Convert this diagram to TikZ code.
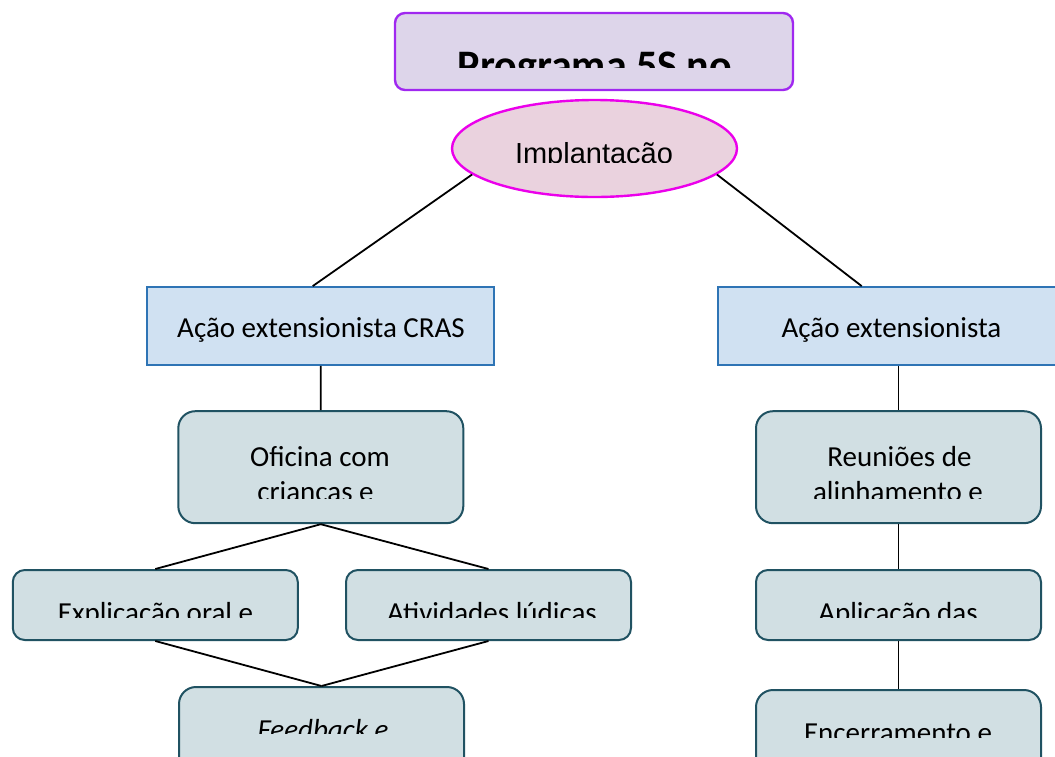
\documentclass[tikz,border=0pt]{standalone}
\usepackage{fontspec}
\setmainfont{Carlito}
\newfontfamily\arialfont{Liberation Sans}
\usetikzlibrary{shapes.geometric}
\definecolor{titlefill}{RGB}{221,213,234}
\definecolor{titledraw}{RGB}{160,40,240}
\definecolor{ellfill}{RGB}{234,210,222}
\definecolor{elldraw}{RGB}{235,0,235}
\definecolor{bluefill}{RGB}{208,225,242}
\definecolor{bluedraw}{RGB}{46,116,181}
\definecolor{tealfill}{RGB}{209,223,227}
\definecolor{tealdraw}{RGB}{32,82,98}
\tikzset{
  titlebox/.style={draw=titledraw,fill=titlefill,line width=2.4pt,rounded corners=10pt,inner sep=0pt},
  ellbox/.style={ellipse,draw=elldraw,fill=ellfill,line width=2.4pt,inner sep=0pt,minimum width=285pt,minimum height=97pt},
  bluebox/.style={rectangle,draw=bluedraw,fill=bluefill,line width=1.8pt,inner sep=0pt,minimum width=347pt,minimum height=78pt},
  tealbig/.style={rectangle,draw=tealdraw,fill=tealfill,line width=2pt,rounded corners=17pt,inner sep=0pt,minimum width=285pt,minimum height=112pt},
  tealsmall/.style={rectangle,draw=tealdraw,fill=tealfill,line width=2pt,rounded corners=12pt,inner sep=0pt,minimum width=285pt,minimum height=70pt},
  txt/.style={anchor=base,inner sep=0pt,font=\fontsize{29}{35}\selectfont},
  conn/.style={draw=black,line width=1.8pt}
}
\begin{document}
\begin{tikzpicture}[x=1pt,y=-1pt]
\useasboundingbox (0,0) rectangle (1055,756);
\clip (0,0) rectangle (1055,756);
% title
\node[titlebox,minimum width=398pt,minimum height=77pt] (title) at (594,51.5) {};
\begin{scope}\clip (395,13) rectangle (793,67);
\node[txt,font=\fontsize{42}{50}\selectfont\bfseries] (titletxt) at (595,79) {Programa 5S no};
\end{scope}
% ellipse
\node[ellbox] (impl) at (594.5,148.5) {};
\begin{scope}\clip (452,100) rectangle (737,162);
\node[txt,font=\arialfont\fontsize{29}{35}\selectfont] (impltxt) at (594,163) {Implantação};
\end{scope}
% blue boxes
\node[bluebox] (lcras) at (320.7,326) {};
\node[txt] (lcrastxt) at (321,337) {Ação extensionista CRAS};
\node[bluebox] (rcras) at (891.7,326) {};
\node[txt] (rcrastxt) at (891.5,337) {Ação extensionista};
% level 3
\node[tealbig] (ofi) at (320.8,467.2) {};
\begin{scope}\clip (179,412) rectangle (463,498);
\node[txt] (ofi1) at (320,466) {Oficina com};
\node[txt] (ofi2) at (315.5,501) {crianças e};
\end{scope}
\node[tealbig] (reun) at (898.5,467.2) {};
\begin{scope}\clip (756,412) rectangle (1041,498);
\node[txt] (reun1) at (899.5,466) {Reuniões de};
\node[txt] (reun2) at (898,501) {alinhamento e};
\end{scope}
% level 4
\node[tealsmall] (expl) at (155.3,605) {};
\begin{scope}\clip (12,570) rectangle (298,617);
\node[txt] (expltxt) at (155.5,622) {Explicação oral e};
\end{scope}
\node[tealsmall] (ativ) at (488.5,605) {};
\begin{scope}\clip (346,570) rectangle (631,617);
\node[txt] (ativtxt) at (492,622) {Atividades lúdicas};
\end{scope}
\node[tealsmall] (apl) at (898.5,605) {};
\begin{scope}\clip (757,570) rectangle (1041,617);
\node[txt] (apltxt) at (898,622) {Aplicação das};
\end{scope}
% level 5
\node[tealbig] (fb) at (321.5,743) {};
\begin{scope}\clip (179,687) rectangle (464,733);
\node[txt,font=\fontsize{29}{35}\selectfont\itshape] (fbtxt) at (323,739) {Feedback e};
\end{scope}
\node[tealbig] (enc) at (898.5,746) {};
\begin{scope}\clip (757,690) rectangle (1041,737);
\node[txt] (enctxt) at (898,742) {Encerramento e};
\end{scope}
% connectors
\draw[conn] (impl.192) -- ([xshift=-8pt]lcras.north);
\draw[conn] (impl.348) -- ([xshift=-30pt]rcras.north);
\draw[conn] (lcras.south) -- (ofi.north);
\draw[conn] (reun.north |- rcras.south) -- (reun.north);
\draw[conn] (ofi.south) -- (expl.north);
\draw[conn] (ofi.south) -- (ativ.north);
\draw[conn] (expl.south) -- (fb.north);
\draw[conn] (ativ.south) -- (fb.north);
\draw[conn] (reun.south) -- (apl.north);
\draw[conn] (apl.south) -- (enc.north);
\end{tikzpicture}
\end{document}
